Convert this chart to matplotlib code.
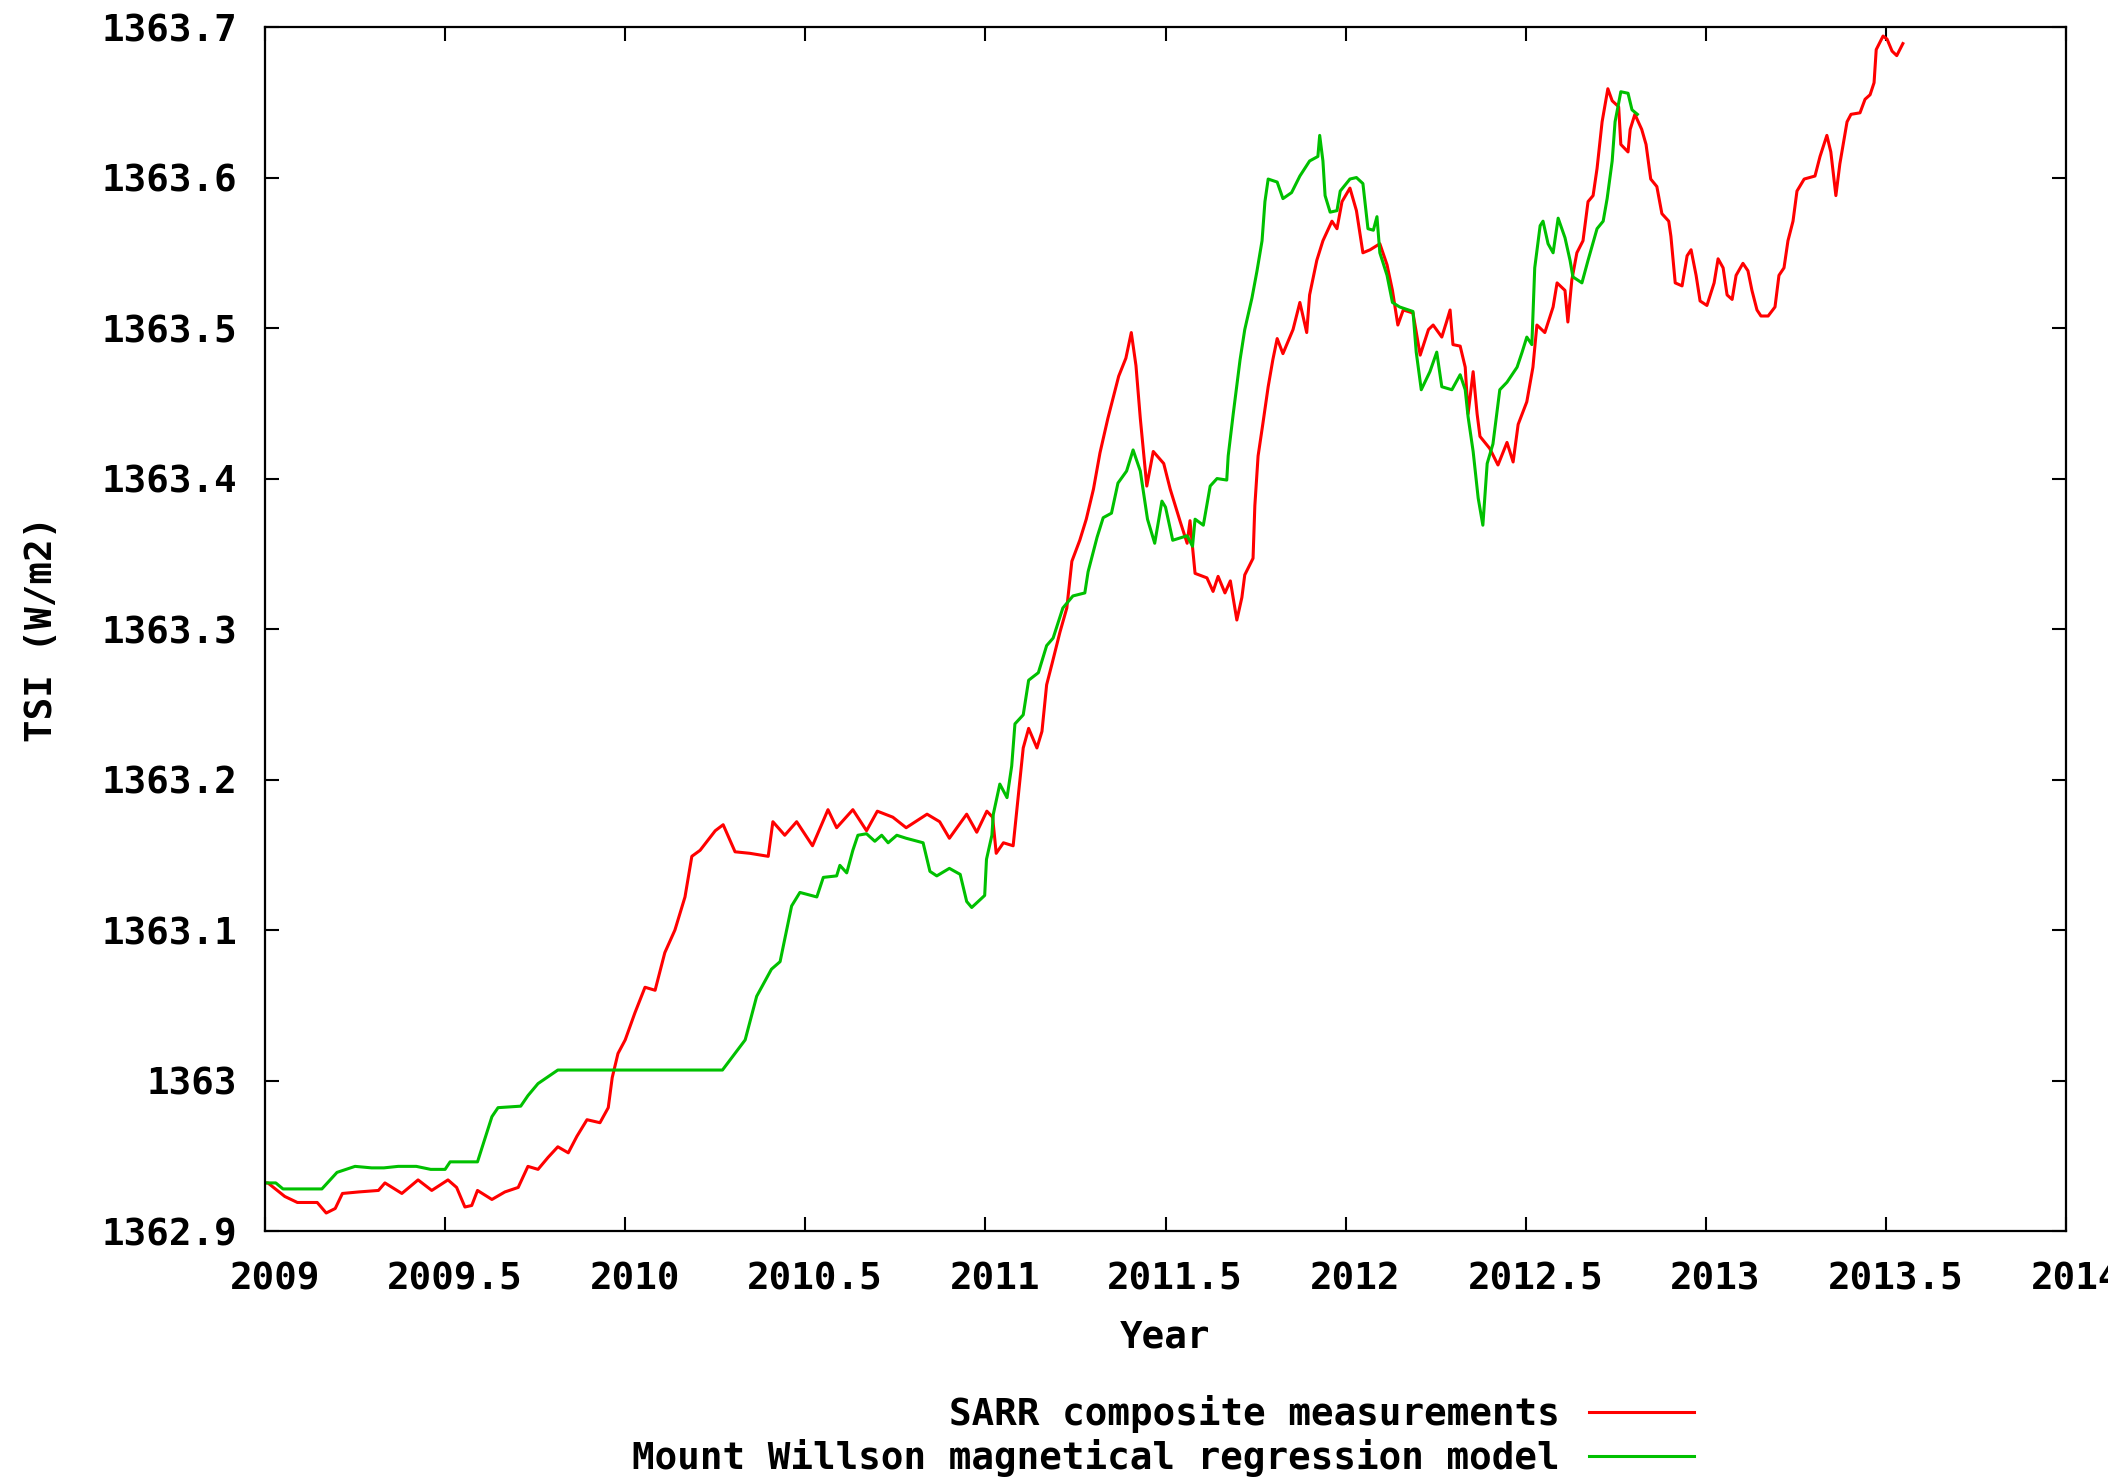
import matplotlib
matplotlib.use("Agg")
import matplotlib.pyplot as plt
import matplotlib.transforms as mtransforms
from matplotlib.ticker import FuncFormatter, MultipleLocator

# SARR composite TSI (W/m2), sampled by decimal year
sarr_year = [
    2009.0, 2009.008, 2009.055, 2009.09, 2009.145, 2009.17, 2009.195, 2009.215,
    2009.26, 2009.315, 2009.333, 2009.38, 2009.425, 2009.463, 2009.508, 2009.532,
    2009.555, 2009.574, 2009.59, 2009.63, 2009.666, 2009.703, 2009.73, 2009.758,
    2009.786, 2009.813, 2009.842, 2009.866, 2009.894, 2009.93, 2009.953, 2009.964,
    2009.98, 2010.0, 2010.027, 2010.055, 2010.083, 2010.11, 2010.138, 2010.166,
    2010.185, 2010.208, 2010.25, 2010.272, 2010.305, 2010.346, 2010.397, 2010.41,
    2010.443, 2010.476, 2010.52, 2010.563, 2010.587, 2010.632, 2010.67, 2010.70,
    2010.743, 2010.78, 2010.838, 2010.873, 2010.90, 2010.948, 2010.976, 2011.004,
    2011.02, 2011.03, 2011.05, 2011.077, 2011.09, 2011.105, 2011.12, 2011.143,
    2011.157, 2011.17, 2011.185, 2011.207, 2011.226, 2011.24, 2011.262, 2011.28,
    2011.30, 2011.318, 2011.34, 2011.37, 2011.39, 2011.405, 2011.418, 2011.43,
    2011.448, 2011.466, 2011.484, 2011.495, 2011.513, 2011.54, 2011.56, 2011.568,
    2011.582, 2011.615, 2011.632, 2011.646, 2011.665, 2011.68, 2011.698, 2011.712,
    2011.72, 2011.743, 2011.748, 2011.757, 2011.77, 2011.785, 2011.798, 2011.81,
    2011.826, 2011.854, 2011.873, 2011.892, 2011.90, 2011.92, 2011.937, 2011.962,
    2011.976, 2011.99, 2012.012, 2012.03, 2012.048, 2012.068, 2012.095, 2012.115,
    2012.13, 2012.145, 2012.16, 2012.187, 2012.207, 2012.23, 2012.243, 2012.267,
    2012.28, 2012.29, 2012.298, 2012.318, 2012.332, 2012.34, 2012.354, 2012.365,
    2012.373, 2012.40, 2012.423, 2012.448, 2012.465, 2012.479, 2012.503, 2012.52,
    2012.531, 2012.553, 2012.576, 2012.587, 2012.609, 2012.617, 2012.628, 2012.642,
    2012.659, 2012.673, 2012.687, 2012.698, 2012.712, 2012.728, 2012.74, 2012.758,
    2012.764, 2012.784, 2012.79, 2012.803, 2012.822, 2012.834, 2012.847, 2012.864,
    2012.878, 2012.897, 2012.903, 2012.915, 2012.934, 2012.948, 2012.959, 2012.973,
    2012.984, 2013.003, 2013.023, 2013.034, 2013.048, 2013.059, 2013.073, 2013.084,
    2013.103, 2013.117, 2013.128, 2013.142, 2013.153, 2013.173, 2013.192, 2013.203,
    2013.217, 2013.228, 2013.242, 2013.253, 2013.273, 2013.303, 2013.317, 2013.336,
    2013.347, 2013.361, 2013.372, 2013.392, 2013.403, 2013.428, 2013.442, 2013.456,
    2013.467, 2013.473, 2013.492, 2013.503, 2013.517, 2013.53, 2013.547,
]
sarr_tsi = [
    1362.932, 1362.932, 1362.923, 1362.919, 1362.919, 1362.912, 1362.915, 1362.925,
    1362.926, 1362.927, 1362.932, 1362.925, 1362.934, 1362.927, 1362.934, 1362.929,
    1362.916, 1362.917, 1362.927, 1362.921, 1362.926, 1362.929, 1362.943, 1362.941,
    1362.949, 1362.956, 1362.952, 1362.963, 1362.974, 1362.972, 1362.982, 1363.002,
    1363.018, 1363.027, 1363.045, 1363.062, 1363.060, 1363.085, 1363.100, 1363.122,
    1363.149, 1363.153, 1363.166, 1363.170, 1363.152, 1363.151, 1363.149, 1363.172,
    1363.163, 1363.172, 1363.156, 1363.180, 1363.168, 1363.180, 1363.166, 1363.179,
    1363.175, 1363.168, 1363.177, 1363.172, 1363.161, 1363.177, 1363.165, 1363.179,
    1363.175, 1363.151, 1363.158, 1363.156, 1363.186, 1363.221, 1363.234, 1363.221,
    1363.232, 1363.263, 1363.277, 1363.298, 1363.314, 1363.345, 1363.359, 1363.373,
    1363.393, 1363.417, 1363.440, 1363.468, 1363.480, 1363.497, 1363.475, 1363.440,
    1363.395, 1363.418, 1363.413, 1363.410, 1363.393, 1363.372, 1363.357, 1363.372,
    1363.337, 1363.334, 1363.325, 1363.335, 1363.324, 1363.332, 1363.306, 1363.321,
    1363.336, 1363.347, 1363.382, 1363.415, 1363.436, 1363.461, 1363.479, 1363.493,
    1363.483, 1363.499, 1363.517, 1363.497, 1363.522, 1363.545, 1363.558, 1363.571,
    1363.566, 1363.584, 1363.593, 1363.578, 1363.550, 1363.552, 1363.556, 1363.542,
    1363.525, 1363.502, 1363.512, 1363.510, 1363.482, 1363.499, 1363.502, 1363.494,
    1363.504, 1363.512, 1363.489, 1363.488, 1363.474, 1363.443, 1363.471, 1363.443,
    1363.428, 1363.420, 1363.409, 1363.424, 1363.411, 1363.436, 1363.451, 1363.474,
    1363.502, 1363.497, 1363.514, 1363.530, 1363.525, 1363.504, 1363.532, 1363.550,
    1363.558, 1363.584, 1363.588, 1363.606, 1363.637, 1363.659, 1363.651, 1363.647,
    1363.622, 1363.617, 1363.632, 1363.642, 1363.632, 1363.622, 1363.599, 1363.594,
    1363.576, 1363.571, 1363.561, 1363.530, 1363.528, 1363.548, 1363.552, 1363.535,
    1363.518, 1363.515, 1363.530, 1363.546, 1363.540, 1363.522, 1363.519, 1363.535,
    1363.543, 1363.538, 1363.525, 1363.512, 1363.508, 1363.508, 1363.514, 1363.535,
    1363.540, 1363.558, 1363.571, 1363.591, 1363.599, 1363.601, 1363.614, 1363.628,
    1363.617, 1363.588, 1363.609, 1363.637, 1363.642, 1363.643, 1363.652, 1363.655,
    1363.663, 1363.685, 1363.694, 1363.692, 1363.684, 1363.681, 1363.689,
]

# Mount Wilson magnetic regression model
mw_year = [
    2009.0, 2009.03, 2009.05, 2009.158, 2009.2, 2009.25, 2009.296, 2009.33,
    2009.37, 2009.42, 2009.46, 2009.5, 2009.514, 2009.59, 2009.63, 2009.647,
    2009.71, 2009.73, 2009.758, 2009.813, 2010.27, 2010.333, 2010.365, 2010.406,
    2010.43, 2010.448, 2010.462, 2010.485, 2010.532, 2010.55, 2010.587, 2010.596,
    2010.615, 2010.632, 2010.646, 2010.67, 2010.693, 2010.712, 2010.73, 2010.754,
    2010.78, 2010.827, 2010.846, 2010.865, 2010.90, 2010.93, 2010.948, 2010.962,
    2010.998, 2011.003, 2011.018, 2011.022, 2011.032, 2011.04, 2011.06, 2011.073,
    2011.082, 2011.105, 2011.12, 2011.147, 2011.17, 2011.188, 2011.215, 2011.243,
    2011.276, 2011.285, 2011.31, 2011.327, 2011.35, 2011.368, 2011.392, 2011.41,
    2011.43, 2011.45, 2011.47, 2011.49, 2011.50, 2011.52, 2011.56, 2011.575,
    2011.582, 2011.605, 2011.624, 2011.643, 2011.67, 2011.674, 2011.688, 2011.707,
    2011.72, 2011.74, 2011.754, 2011.768, 2011.776, 2011.785, 2011.81, 2011.826,
    2011.85, 2011.873, 2011.90, 2011.923, 2011.928, 2011.937, 2011.943, 2011.957,
    2011.976, 2011.985, 2012.012, 2012.03, 2012.048, 2012.062, 2012.077, 2012.087,
    2012.095, 2012.115, 2012.13, 2012.15, 2012.187, 2012.196, 2012.21, 2012.234,
    2012.253, 2012.267, 2012.295, 2012.318, 2012.332, 2012.34, 2012.354, 2012.368,
    2012.381, 2012.393, 2012.409, 2012.428, 2012.448, 2012.476, 2012.49, 2012.503,
    2012.517, 2012.525, 2012.54, 2012.548, 2012.562, 2012.576, 2012.59, 2012.609,
    2012.623, 2012.631, 2012.656, 2012.673, 2012.698, 2012.715, 2012.726, 2012.74,
    2012.748, 2012.764, 2012.784, 2012.795, 2012.81,
]
mw_tsi = [
    1362.932, 1362.932, 1362.928, 1362.928, 1362.939, 1362.943, 1362.942, 1362.942,
    1362.943, 1362.943, 1362.941, 1362.941, 1362.946, 1362.946, 1362.976, 1362.982,
    1362.983, 1362.990, 1362.998, 1363.007, 1363.007, 1363.027, 1363.056, 1363.074,
    1363.079, 1363.100, 1363.116, 1363.125, 1363.122, 1363.135, 1363.136, 1363.143,
    1363.138, 1363.153, 1363.163, 1363.164, 1363.159, 1363.163, 1363.158, 1363.163,
    1363.161, 1363.158, 1363.139, 1363.136, 1363.141, 1363.137, 1363.119, 1363.115,
    1363.123, 1363.147, 1363.163, 1363.177, 1363.188, 1363.197, 1363.188, 1363.209,
    1363.237, 1363.243, 1363.266, 1363.271, 1363.289, 1363.294, 1363.314, 1363.322,
    1363.324, 1363.338, 1363.361, 1363.374, 1363.377, 1363.397, 1363.405, 1363.419,
    1363.405, 1363.373, 1363.357, 1363.385, 1363.381, 1363.359, 1363.362, 1363.355,
    1363.373, 1363.369, 1363.395, 1363.400, 1363.399, 1363.415, 1363.443, 1363.479,
    1363.499, 1363.520, 1363.538, 1363.558, 1363.584, 1363.599, 1363.597, 1363.586,
    1363.590, 1363.601, 1363.611, 1363.614, 1363.628, 1363.611, 1363.588, 1363.577,
    1363.578, 1363.591, 1363.599, 1363.600, 1363.596, 1363.566, 1363.565, 1363.574,
    1363.550, 1363.535, 1363.517, 1363.514, 1363.511, 1363.484, 1363.459, 1363.471,
    1363.484, 1363.461, 1363.459, 1363.469, 1363.459, 1363.441, 1363.418, 1363.387,
    1363.369, 1363.410, 1363.423, 1363.459, 1363.464, 1363.474, 1363.484, 1363.494,
    1363.489, 1363.540, 1363.568, 1363.571, 1363.556, 1363.550, 1363.573, 1363.560,
    1363.545, 1363.534, 1363.530, 1363.545, 1363.566, 1363.571, 1363.586, 1363.611,
    1363.637, 1363.657, 1363.656, 1363.645, 1363.642,
]

plt.rcParams['font.family'] = ['DejaVu Sans Mono']
plt.rcParams['font.weight'] = 'bold'
plt.rcParams['font.size'] = 27

fig = plt.figure(figsize=(21.08, 14.77), dpi=100)
ax = fig.add_axes([0.1257, 0.1665, 0.8544, 0.8152])

ax.plot(sarr_year, sarr_tsi, color='#ff0000', lw=2.2, label='SARR composite measurements')
ax.plot(mw_year, mw_tsi, color='#00c000', lw=2.2, label='Mount Willson magnetical regression model')

ax.set_xlim(2009, 2014)
ax.set_ylim(1362.9, 1363.7)
ax.xaxis.set_major_locator(MultipleLocator(0.5))
ax.yaxis.set_major_locator(MultipleLocator(0.1))
fmt = FuncFormatter(lambda v, pos: '%g' % round(v, 4))
ax.xaxis.set_major_formatter(fmt)
ax.yaxis.set_major_formatter(fmt)

ax.tick_params(axis='both', direction='in', length=10, width=1.5,
               top=True, right=True, labelsize=27)
ax.tick_params(axis='x', pad=22)
ax.tick_params(axis='y', pad=20)
for s in ax.spines.values():
    s.set_linewidth(1.6)

# year labels sit a little right of their ticks
shift = mtransforms.ScaledTranslation(7 / 72, 0, fig.dpi_scale_trans)
for lab in ax.get_xticklabels():
    lab.set_transform(lab.get_transform() + shift)

ax.set_xlabel('Year', fontsize=27, fontweight='bold', labelpad=16)
ax.set_ylabel('TSI (W/m2)', fontsize=27, fontweight='bold', labelpad=30)

fig.legend(loc='upper right', bbox_to_anchor=(1694 / 2108, 1 - 1395 / 1477),
           frameon=False, markerfirst=False, fontsize=27,
           handlelength=2.8, handletextpad=0.77, labelspacing=0.15,
           borderpad=0, borderaxespad=0)

fig.savefig('out.png', dpi=100)
